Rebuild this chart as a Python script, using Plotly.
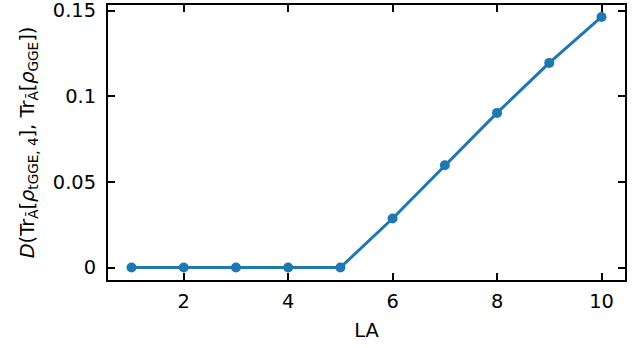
import plotly.graph_objects as go

LA = [1, 2, 3, 4, 5, 6, 7, 8, 9, 10]
D_values = [0, 0, 0, 0, 0, 0.0286, 0.0597, 0.0903, 0.1195, 0.1463]
x_ticks = [2, 4, 6, 8, 10]
y_ticks = [0, 0.05, 0.1, 0.15]
y_tick_labels = ["0", "0.05", "0.1", "0.15"]

fig = go.Figure()
fig.add_trace(go.Scatter(
    x=LA, y=D_values, mode="lines+markers",
    line=dict(color="#1f77b4", width=3),
    marker=dict(color="#1f77b4", size=10),
    showlegend=False,
))

font = dict(family="DejaVu Sans", size=19.4, color="black")
fig.update_layout(
    width=641, height=348,
    margin=dict(l=108, r=16, t=5, b=68),
    plot_bgcolor="white", paper_bgcolor="white",
    font=font,
)
fig.update_xaxes(
    range=[0.55, 10.45], tickvals=x_ticks, automargin=False,
    ticks="inside", ticklen=7, tickwidth=1.8, tickcolor="black",
    showline=True, linewidth=2.2, linecolor="black", mirror="ticks",
    showgrid=False, zeroline=False, ticklabelstandoff=3, ticklabeloverflow="allow",
    title=dict(text="LA", font=font, standoff=11),
)
fig.update_yaxes(
    range=[-0.0073, 0.1533], tickvals=y_ticks, ticktext=y_tick_labels, automargin=False,
    ticks="inside", ticklen=7, tickwidth=1.8, tickcolor="black",
    showline=True, linewidth=2.2, linecolor="black", mirror="ticks",
    showgrid=False, zeroline=False, ticklabelstandoff=6, ticklabeloverflow="allow",
    title=dict(text="<i>D</i>(Tr<sub>Ā</sub>[<i>ρ</i><sub>tGGE, 4</sub>], Tr<sub>Ā</sub>[<i>ρ</i><sub>GGE</sub>])",
               font=font, standoff=13),
)
fig.write_html("out.html", config={"displayModeBar": False},
               post_script="document.body.style.margin='0';document.body.style.overflow='hidden';")
